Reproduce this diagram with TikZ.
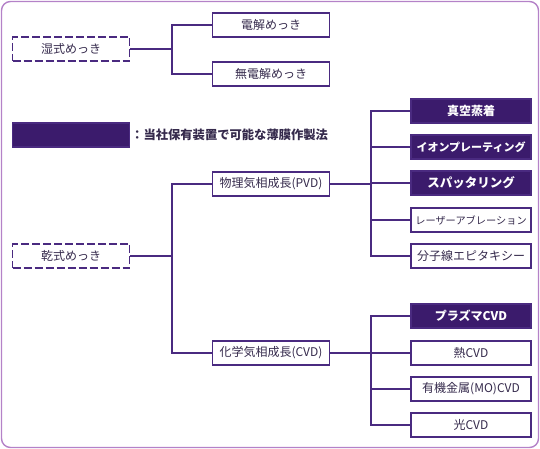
\documentclass[tikz,border=0pt]{standalone}
\usepackage{fontspec}
\setmainfont{Noto Sans CJK JP}
\definecolor{framec}{HTML}{B482C8}
\definecolor{ink}{HTML}{4A2A80}
\definecolor{darkfill}{HTML}{3B1B6C}
\definecolor{txt}{HTML}{352A4C}
\tikzset{
    box/.style={draw=ink, line width=1.7pt, minimum width=117pt, minimum height=24pt, inner sep=0pt, text=txt, font=\fontsize{12}{14}\selectfont},
    fillbox/.style={box, fill=darkfill, text=white, font=\fontsize{12}{14}\selectfont\bfseries},
    dashbox/.style={box, dash pattern=on 8pt off 3pt},
    link/.style={draw=ink, line width=1.7pt}
}

\begin{document}
\begin{tikzpicture}[x=1pt,y=-1pt]
    \useasboundingbox (0,0) rectangle (540,449);
    \draw[framec, line width=1.4pt, rounded corners=9pt] (1.5,1.5) rectangle (538.5,447.5);

    % wet plating
    \node[dashbox] (wet) at (71,49) {湿式めっき};
    \node[box] (elec) at (271,25) {電解めっき};
    \node[box] (noelec) at (271,74) {無電解めっき};
    \coordinate (wj) at (172,49);
    \draw[link] (wet.east) -- (wj);
    \draw[link] (elec.west) -| (wj) |- (noelec.west);

    % legend
    \node[fillbox] (key) at (71,135) {};
    \node[anchor=west, inner sep=0pt, text=txt, font=\fontsize{12.3}{14}\selectfont\bfseries] (keytext) at (131,135) {：当社保有装置で可能な薄膜作製法};

    % dry plating
    \node[dashbox] (dry) at (71,256) {乾式めっき};
    \node[box] (pvd) at (271,184) {物理気相成長(PVD)};
    \node[box] (cvd) at (271,353) {化学気相成長(CVD)};
    \coordinate (dj) at (172,256);
    \draw[link] (dry.east) -- (dj);
    \draw[link] (pvd.west) -| (dj) |- (cvd.west);

    % PVD methods
    \coordinate (pj) at (371,184);
    \draw[link] (pvd.east) -- (pj);
    \foreach \name/\y/\fs/\labeltext in {p1/111/12/真空蒸着, p2/147/11/イオンプレーティング, p3/183/12.5/スパッタリング}{
        \node[fillbox, minimum width=120pt, font=\fontsize{\fs}{14}\selectfont\bfseries] (\name) at (471,\y) {\labeltext};
        \draw[link] (\name.west) -| (pj);
    }
    \foreach \name/\y/\fs/\labeltext in {p4/220/10.2/レーザーアブレーション, p5/256/12/分子線エピタキシー}{
        \node[box, minimum width=120pt, font=\fontsize{\fs}{14}\selectfont] (\name) at (471,\y) {\labeltext};
        \draw[link] (\name.west) -| (pj);
    }

    % CVD methods
    \coordinate (cj) at (371,353);
    \draw[link] (cvd.east) -- (cj);
    \node[fillbox, minimum width=120pt] (c1) at (471,316) {プラズマCVD};
    \draw[link] (c1.west) -| (cj);
    \foreach \name/\y/\labeltext in {c2/353/熱CVD, c3/389/有機金属(MO)CVD, c4/425/光CVD}{
        \node[box, minimum width=120pt] (\name) at (471,\y) {\labeltext};
        \draw[link] (\name.west) -| (cj);
    }
\end{tikzpicture}
\end{document}
